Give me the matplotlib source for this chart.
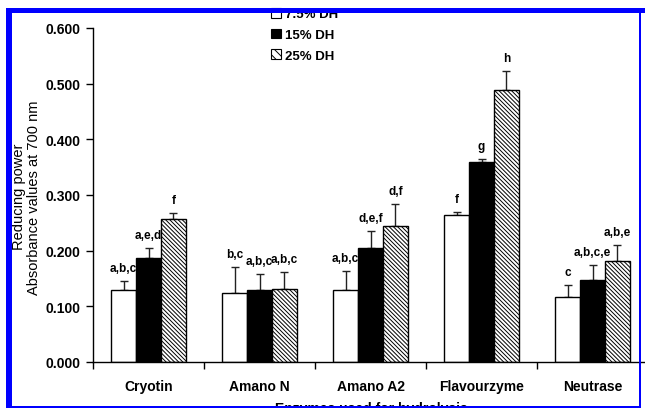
import numpy as np
import matplotlib.pyplot as plt
from matplotlib.patches import Patch, Rectangle

plt.rcParams['font.family'] = ['Liberation Sans', 'DejaVu Sans']
plt.rcParams['hatch.linewidth'] = 0.7

enzymes = ['Cryotin', 'Amano N', 'Amano A2', 'Flavourzyme', 'Neutrase']
series = ['7.5% DH', '15% DH', '25% DH']

dh75 = [0.130, 0.124, 0.130, 0.264, 0.116]
dh15 = [0.186, 0.130, 0.205, 0.360, 0.148]
dh25 = [0.256, 0.132, 0.245, 0.489, 0.181]

err75 = [0.015, 0.047, 0.033, 0.005, 0.022]
err15 = [0.018, 0.028, 0.030, 0.005, 0.026]
err25 = [0.011, 0.030, 0.039, 0.033, 0.029]

lab75 = ['a,b,c', 'b,c', 'a,b,c', 'f', 'c']
lab15 = ['a,e,d', 'a,b,c', 'd,e,f', 'g', 'a,b,c,e']
lab25 = ['f', 'a,b,c', 'd,f', 'h', 'a,b,e']

W, H = 645, 410
fig = plt.figure(figsize=(W / 100, H / 100), dpi=100)
fig.patch.set_facecolor('white')
ax = fig.add_axes([93 / W, 47 / H, 555 / W, 334 / H])

x = np.arange(len(enzymes))
bw = 0.225
colors = ['white', 'black', 'white']
hatches = [None, None, '\\\\\\\\\\\\\\\\']

for k, (vals, errs, labs) in enumerate([(dh75, err75, lab75), (dh15, err15, lab15), (dh25, err25, lab25)]):
    pos = x + (k - 1) * bw
    ax.bar(pos, vals, bw, color=colors[k], edgecolor='black', linewidth=1.0,
           hatch=hatches[k], zorder=2)
    ax.errorbar(pos, vals, yerr=[np.zeros(len(vals)), errs], fmt='none', ecolor='#222222',
                elinewidth=1.0, capsize=3, capthick=1.0, zorder=1)
    # letras de significancia
    for p, v, e, t in zip(pos, vals, errs, labs):
        ax.annotate(t, (p, v + e), xytext=(0, 5), textcoords='offset points',
                    ha='center', va='bottom', fontsize=8.5, fontweight='bold')

ax.set_xlim(-0.5, len(enzymes) - 0.5)
ax.set_ylim(0, 0.6)
yt = np.arange(0, 0.61, 0.1)
ax.set_yticks(yt)
ax.set_yticklabels(['%.3f' % v for v in yt], fontsize=10, fontweight='bold')
ax.set_xticks(np.arange(-0.5, len(enzymes), 1.0))
ax.set_xticklabels([])
ax.set_xticks(x, minor=True)
ax.set_xticklabels(enzymes, minor=True, fontsize=10, fontweight='bold')
ax.tick_params(axis='x', which='major', length=5, width=1)
ax.tick_params(axis='x', which='minor', length=0, pad=12)
ax.tick_params(axis='y', length=5, width=1, pad=4)
for s in ['top', 'right']:
    ax.spines[s].set_visible(False)
for s in ['left', 'bottom']:
    ax.spines[s].set_linewidth(1.0)

handles = [Patch(facecolor='white', edgecolor='black', linewidth=0.8),
           Patch(facecolor='black', edgecolor='black', linewidth=0.8),
           Patch(facecolor='white', edgecolor='black', hatch='\\\\\\\\', linewidth=0.8)]
fig.legend(handles, series, loc='upper left', bbox_to_anchor=(271 / W, 1 - 9 / H),
           frameon=False, handlelength=0.75, handleheight=0.75, handletextpad=0.3,
           labelspacing=0.62, borderpad=0, borderaxespad=0,
           prop={'size': 9.5, 'weight': 'bold'})

fig.text(19 / W, 1 - 197 / H, 'Reducing power', rotation=90, ha='center', va='center', fontsize=10.5)
fig.text(34 / W, 1 - 198 / H, 'Absorbance values at 700 nm', rotation=90, ha='center', va='center', fontsize=10.5)
fig.text(371 / W, 1 - 402 / H, 'Enzymes used for hydrolysis', ha='center', va='top',
         fontsize=10, fontweight='bold')

# marco azul de la captura
blue = '#0000ff'
frame = [(6, 9, 6, 401), (6, 9, 639, 5), (638.5, 9, 2.5, 400), (6, 407, 635, 1.8)]
for (px, py, pw, ph) in frame:
    fig.add_artist(Rectangle((px / W, 1 - (py + ph) / H), pw / W, ph / H,
                             transform=fig.transFigure, facecolor=blue, edgecolor='none', zorder=10))
fig.add_artist(Rectangle((0, 0), 1, 1.5 / H, transform=fig.transFigure,
                         facecolor='white', edgecolor='none', zorder=11))

fig.savefig('out.png', dpi=100)
